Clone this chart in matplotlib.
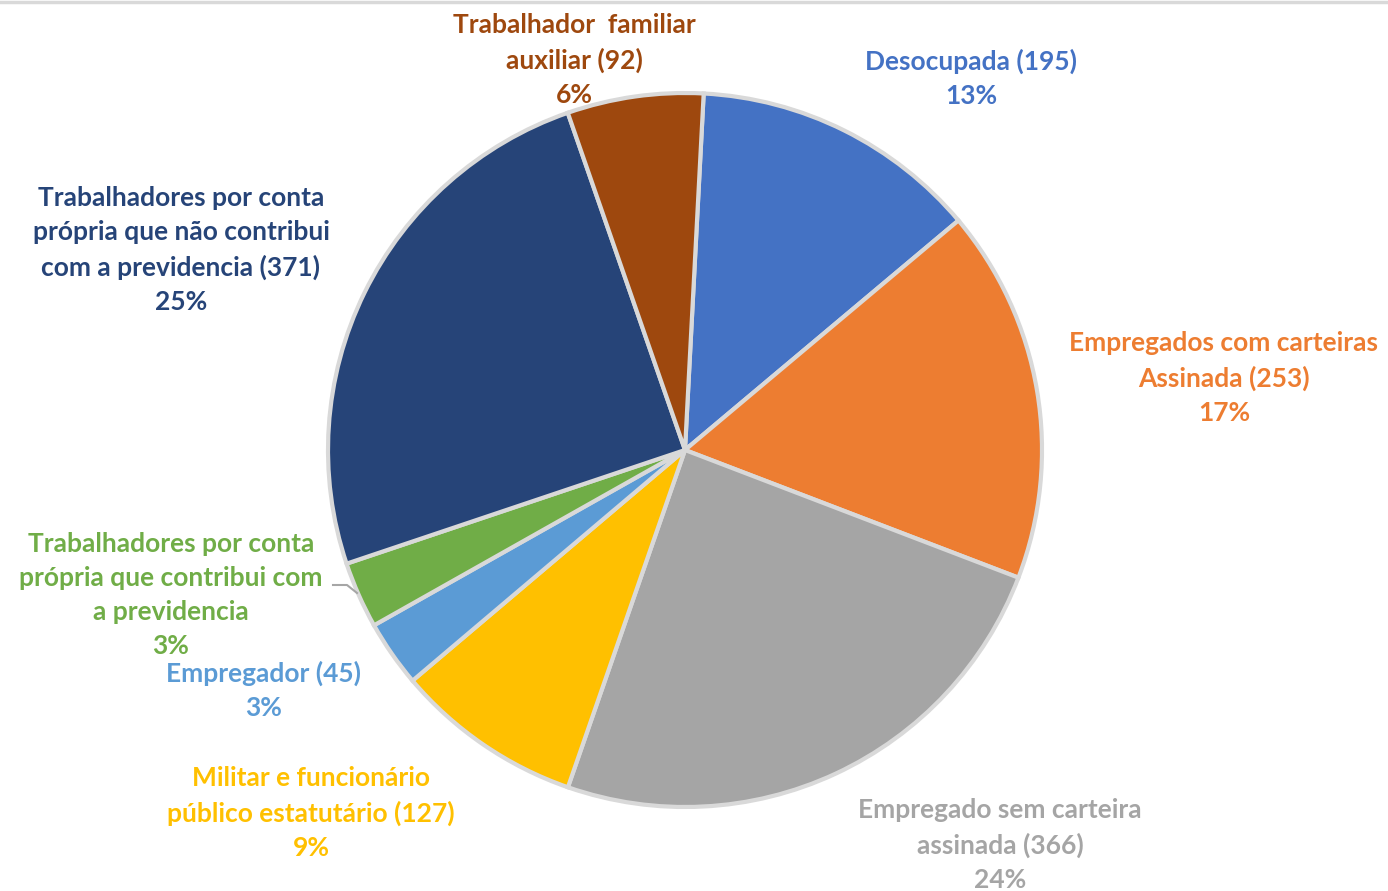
import matplotlib.pyplot as plt
from matplotlib.lines import Line2D

# dados
rotulos = ["Desocupada (195)\n13%",
           "Empregados com carteiras\nAssinada (253)\n17%",
           "Empregado sem carteira\nassinada (366)\n24%",
           "Militar e funcionário\npúblico estatutário (127)\n9%",
           "Empregador (45)\n3%",
           "Trabalhadores por conta\nprópria que contribui com\na previdencia\n3%",
           "Trabalhadores por conta\nprópria que não contribui\ncom a previdencia (371)\n25%",
           "Trabalhador  familiar\nauxiliar (92)\n6%"]
valores = [195, 253, 366, 127, 45, 45, 371, 92]
cores = ["#4472C4", "#ED7D31", "#A5A5A5", "#FFC000",
         "#5B9BD5", "#70AD47", "#264478", "#9E480E"]

# posicoes dos rotulos em pixels (centro do bloco de texto)
pos_rotulos = [(971, 78), (1224, 378), (1000, 845), (311, 813),
               (264, 690), (171, 595), (181, 250), (574, 60)]

W, H = 1388, 891
cx, cy, r = 685, 450, 357


def px(x, y):
    return ((x - cx) / r, (cy - y) / r)


fig = plt.figure(figsize=(W / 100, H / 100), dpi=100)
ax = fig.add_axes([0, 0, 1, 1])

ax.pie(valores, colors=cores, startangle=87, counterclock=False,
       radius=1, center=(0, 0),
       wedgeprops=dict(edgecolor="#D9D9D9", linewidth=3))

for txt, (x, y), c in zip(rotulos, pos_rotulos, cores):
    tx, ty = px(x, y)
    ax.text(tx, ty, txt, color=c, ha="center", va="center",
            fontsize=19, fontweight="bold", family=["Lato", "DejaVu Sans"],
            linespacing=1.5)

# linha guia do rotulo verde
lx = [px(333, 585)[0], px(347, 585)[0], px(357, 593)[0]]
ly = [px(333, 585)[1], px(347, 585)[1], px(357, 593)[1]]
ax.plot(lx, ly, color="#A6A6A6", lw=1.5)

ax.set_xlim(-cx / r, (W - cx) / r)
ax.set_ylim((cy - H) / r, cy / r)
ax.set_aspect("auto")
ax.axis("off")

fig.add_artist(Line2D([0, 1], [1 - 2 / H, 1 - 2 / H], color="#D9D9D9", lw=2.5,
                      transform=fig.transFigure))

fig.savefig("out.png", dpi=100)
